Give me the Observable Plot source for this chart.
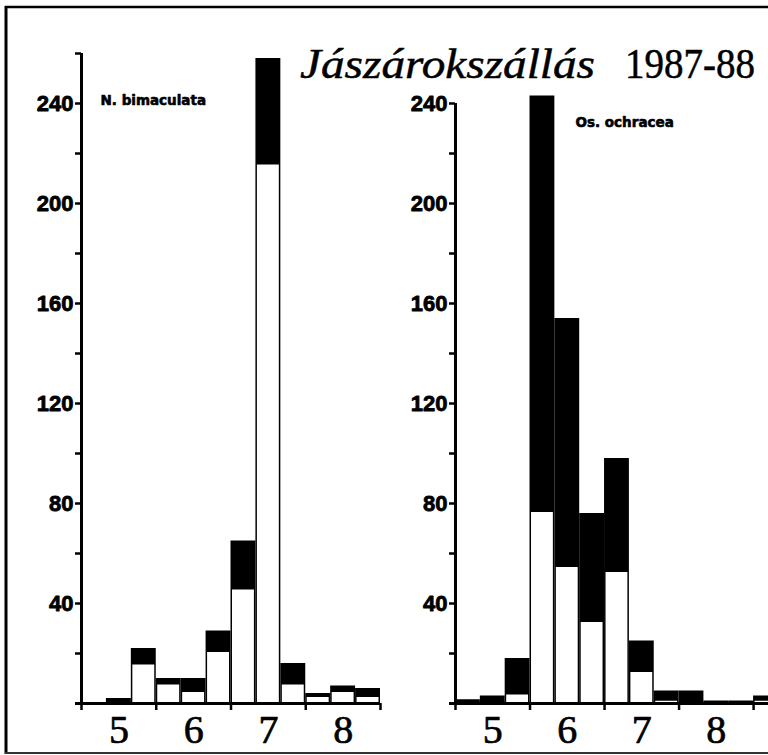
<!DOCTYPE html>
<html><head><meta charset="utf-8">
<script src="https://cdn.jsdelivr.net/npm/d3@7"></script>
<script src="https://cdn.jsdelivr.net/npm/@observablehq/plot@0.6"></script>
<style>
html,body{margin:0;padding:0;background:#fff;overflow:hidden;}
#wrap{position:relative;width:768px;height:755px;overflow:hidden;background:#fff;}
#left{position:absolute;left:0;top:0;}
#right{position:absolute;left:382px;top:0;}
#overlay{position:absolute;left:0;top:0;pointer-events:none;}
</style></head>
<body>
<div id="wrap"><div id="left"></div><div id="right"></div><svg id="overlay" width="768" height="755"></svg></div>
<script>
// Ten-day periods ("month/decade")
const decades = ["5/1","5/2","5/3","6/1","6/2","6/3","7/1","7/2","7/3","8/1","8/2","8/3"];
// N. bimaculata
const leftTotal = [0, 2, 22, 10, 10, 29, 65, 258, 16, 4, 7, 6];
const leftWhite = [0, 1, 16, 8, 5, 21, 46, 216, 8, 3, 5, 3];
// Os. ochracea
const rightDecades = ["5/1","5/2","5/3","6/1","6/2","6/3","7/1","7/2","7/3","8/1","8/2","8/3","9/1"];
const rightTotal = [1.5, 3, 18, 243, 154, 76, 98, 25, 5, 5, 1, 1, 3];
const rightWhite = [0, 0, 4, 77, 55, 33, 53, 13, 1.5, 0, 0, 0, 1.5];

const months = [5, 6, 7, 8];
const monthBounds = [5, 6, 7, 8, 9];
const yTicksLeft = [20, 40, 60, 80, 100, 120, 140, 160, 180, 200, 220, 240, 260];
const yTicksRight = [20, 40, 60, 80, 100, 120, 140, 160, 180, 200, 220, 240];
const yLabels = [40, 80, 120, 160, 200, 240];
const titleName = "Jászárokszállás";
const titleYears = "1987-88";
const leftLabel = "N. bimaculata";
const rightLabel = "Os. ochracea";

const pos = d => { const [m, k] = d.split("/").map(Number); return m + (k - 1) / 3; };

function panel({decs, total, white, yTop, ticks, label, labelDx, labelDy, width, marginLeft, marginRight, xDomain}) {
  const rows = decs.map((d, i) => ({x1: pos(d), x2: pos(d) + 1/3, total: total[i], white: white[i]}));
  return Plot.plot({
    width, height: 755, marginLeft, marginRight, marginTop: 53, marginBottom: 52,
    x: {domain: xDomain},
    y: {domain: [0, 260]},
    style: {background: "transparent", color: "black"},
    marks: [
      Plot.rect(rows.filter(r => r.total > 0), {x1: "x1", x2: "x2", y1: 0, y2: "total", fill: "black", clip: true}),
      Plot.rect(rows.filter(r => r.white > 0), {x1: "x1", x2: "x2", y1: 0, y2: "white", fill: "white", insetLeft: 1.5, insetRight: 1.5, insetTop: 1.5, clip: true}),
      Plot.ruleY([0], {strokeWidth: 3, insetLeft: -6}),
      Plot.ruleX([xDomain[0]], {y1: 0, y2: yTop, strokeWidth: 3}),
      Plot.axisY({ticks, tickSize: 6, strokeWidth: 2.5, tickFormat: () => "", label: null}),
      Plot.text(yLabels, {x: xDomain[0], y: d => d, text: d => String(d), dx: -8, textAnchor: "end",
        fontFamily: "Liberation Sans, Arial, sans-serif", fontWeight: "bold", fontSize: 22,
        fill: "black", stroke: "black", strokeWidth: 0.8}),
      Plot.axisX({ticks: monthBounds, tickSize: 7, strokeWidth: 2.5, tickFormat: () => "", label: null}),
      Plot.text(months, {x: d => d + 0.5, y: 0, text: d => String(d), dy: 27,
        fontFamily: "Liberation Serif, Times New Roman, serif", fontSize: 40,
        fill: "black", stroke: "black", strokeWidth: 0.7}),
      Plot.text([label], {text: d => d, frameAnchor: "top-left", dx: labelDx, dy: labelDy,
        textAnchor: "start", lineAnchor: "middle",
        fontFamily: "DejaVu Sans, sans-serif", fontWeight: "bold", fontSize: 13.5,
        fill: "black", stroke: "black", strokeWidth: 0.6})
    ]
  });
}

document.getElementById("left").append(panel({
  decs: decades, total: leftTotal, white: leftWhite, yTop: 260, ticks: yTicksLeft,
  label: leftLabel, labelDx: 19, labelDy: 47, width: 382, marginLeft: 81, marginRight: 2, xDomain: [5, 9]
}));
document.getElementById("right").append(panel({
  decs: rightDecades, total: rightTotal, white: rightWhite, yTop: 240, ticks: yTicksRight,
  label: rightLabel, labelDx: 120, labelDy: 69, width: 386, marginLeft: 73, marginRight: 0, xDomain: [5, 9.2]
}));

const ov = d3.select("#overlay");
ov.append("line").attr("x1", 6).attr("x2", 6).attr("y1", 6).attr("y2", 754).attr("stroke", "black").attr("stroke-width", 3);
ov.append("line").attr("x1", 5).attr("x2", 768).attr("y1", 7).attr("y2", 7).attr("stroke", "black").attr("stroke-width", 2.5);
ov.append("line").attr("x1", 5).attr("x2", 768).attr("y1", 753).attr("y2", 753).attr("stroke", "#333").attr("stroke-width", 2);
ov.append("text").attr("x", 300).attr("y", 78).attr("font-family", "Liberation Serif, Times New Roman, serif")
  .attr("font-style", "italic").attr("font-size", 43).attr("textLength", 295).attr("lengthAdjust", "spacingAndGlyphs")
  .attr("fill", "black").attr("stroke", "black").attr("stroke-width", 0.5).text(titleName);
ov.append("text").attr("x", 625).attr("y", 78).attr("font-family", "Liberation Serif, Times New Roman, serif")
  .attr("font-size", 43).attr("textLength", 130).attr("lengthAdjust", "spacingAndGlyphs")
  .attr("fill", "black").attr("stroke", "black").attr("stroke-width", 0.5).text(titleYears);
</script>
</body></html>
